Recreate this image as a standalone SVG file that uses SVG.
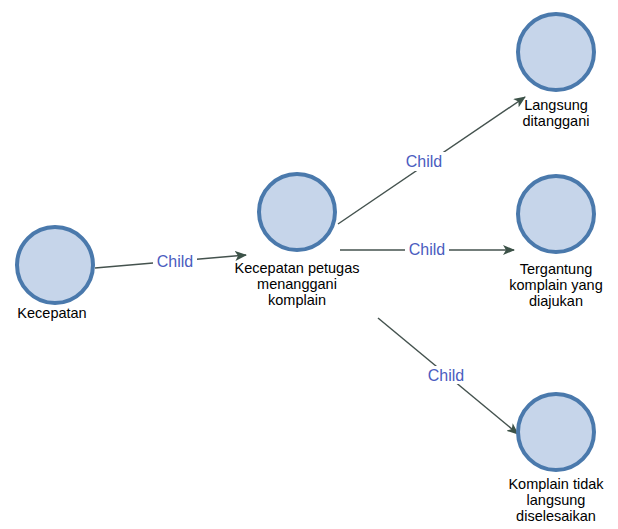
<svg xmlns="http://www.w3.org/2000/svg" width="618" height="529" viewBox="0 0 618 529">
<style>
.node circle{fill:#c6d5ea;stroke:#4a79ac;stroke-width:4}
.node text{font-family:"Liberation Sans",Arial,sans-serif;font-size:14.5px;fill:#000;text-anchor:middle}
.edge{stroke:#44524e;stroke-width:1.5;fill:none;marker-end:url(#arr)}
.lbl{font-family:"Liberation Sans",Arial,sans-serif;font-size:16px;fill:#4a5cc0;text-anchor:middle}
.bg{fill:#fff}
</style>
<defs>
<marker id="arr" markerWidth="12" markerHeight="10" refX="11" refY="5" orient="auto" markerUnits="userSpaceOnUse">
<path d="M0,0 L12,5 L0,10 L3,5 Z" fill="#3c5248"/>
</marker>
</defs>
<rect width="618" height="529" fill="#fff"/>
<g id="connectors">
<path class="edge" d="M95,268 L246,255"/>
<path class="edge" d="M338,224 L525,97"/>
<path class="edge" d="M340,250 L514,250"/>
<path class="edge" d="M378,318 L518,434"/>
<rect class="bg" x="153" y="252" width="44" height="18"/>
<text class="lbl" x="175" y="267">Child</text>
<rect class="bg" x="402" y="152" width="44" height="19"/>
<text class="lbl" x="424" y="167">Child</text>
<rect class="bg" x="405" y="240" width="44" height="18"/>
<text class="lbl" x="427" y="255">Child</text>
<rect class="bg" x="424" y="366" width="44" height="18"/>
<text class="lbl" x="446" y="381">Child</text>
</g>
<g id="n1" class="node">
<circle cx="55" cy="265" r="38"/>
<text x="52" y="318">Kecepatan</text>
</g>
<g id="n2" class="node">
<circle cx="297" cy="212" r="38"/>
<text x="297" y="273">Kecepatan petugas</text>
<text x="297" y="289">menanggani</text>
<text x="297" y="305">komplain</text>
</g>
<g id="n3" class="node">
<circle cx="556" cy="52" r="38"/>
<text x="556" y="110">Langsung</text>
<text x="556" y="126">ditanggani</text>
</g>
<g id="n4" class="node">
<circle cx="556" cy="214" r="38"/>
<text x="556" y="274">Tergantung</text>
<text x="556" y="290">komplain yang</text>
<text x="556" y="306">diajukan</text>
</g>
<g id="n5" class="node">
<circle cx="556" cy="432" r="38"/>
<text x="556" y="489">Komplain tidak</text>
<text x="556" y="505">langsung</text>
<text x="556" y="521">diselesaikan</text>
</g>
</svg>
